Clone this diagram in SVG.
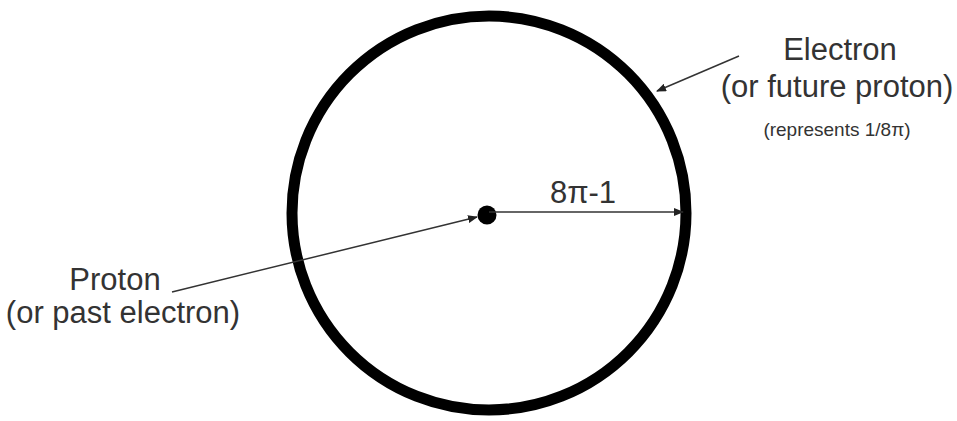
<svg xmlns="http://www.w3.org/2000/svg" width="957" height="421" viewBox="0 0 957 421">
<style>
text{font-family:"Liberation Sans",Arial,sans-serif;fill:#333;text-anchor:middle}
.big{font-size:31px}
.small{font-size:19px}
.conn{stroke:#333;stroke-width:1.5;fill:none}
</style>
<defs>
<marker id="ah" markerWidth="10" markerHeight="8" refX="9" refY="4" orient="auto" markerUnits="userSpaceOnUse">
<path d="M0,0 L10,4 L0,8 Z" fill="#222"/>
</marker>
</defs>
<rect width="957" height="421" fill="#fff"/>
<g id="electron-orbit">
<circle cx="489" cy="213" r="197" fill="none" stroke="#000" stroke-width="11"/>
</g>
<g id="proton-dot">
<circle cx="487" cy="215" r="9.5" fill="#000"/>
</g>
<g id="connectors">
<line class="conn" x1="489" y1="212" x2="683" y2="212" marker-end="url(#ah)"/>
<line class="conn" x1="739" y1="56" x2="657" y2="91" marker-end="url(#ah)"/>
<line class="conn" x1="172" y1="292" x2="477" y2="217" marker-end="url(#ah)"/>
</g>
<g id="radius-label"><text class="big" x="583" y="203">8π-1</text></g>
<g id="electron-label">
<text class="big" x="840" y="60">Electron</text>
<text class="big" x="837" y="97">(or future proton)</text>
<text class="small" x="837" y="136">(represents 1/8π)</text>
</g>
<g id="proton-label">
<text class="big" x="115" y="290">Proton</text>
<text class="big" x="123" y="323">(or past electron)</text>
</g>
</svg>
